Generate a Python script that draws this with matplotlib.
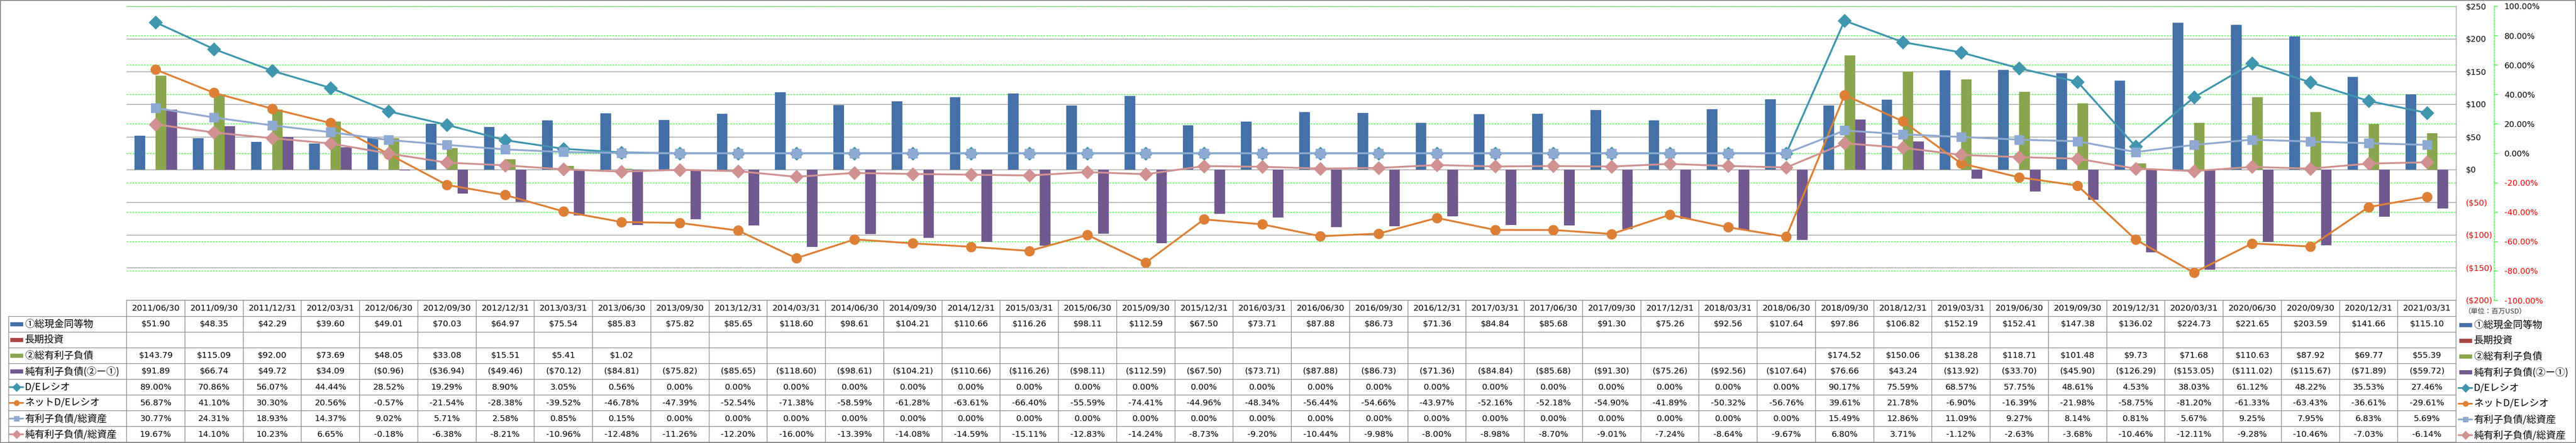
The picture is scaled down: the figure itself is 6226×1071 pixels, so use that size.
import numpy as np
import matplotlib
matplotlib.use("Agg")
import matplotlib.pyplot as plt
from matplotlib.patches import Rectangle
from matplotlib.lines import Line2D

# ---- data (百万USD / %) ----
dates = ["2011/06/30", "2011/09/30", "2011/12/31", "2012/03/31", "2012/06/30", "2012/09/30",
         "2012/12/31", "2013/03/31", "2013/06/30", "2013/09/30", "2013/12/31", "2014/03/31",
         "2014/06/30", "2014/09/30", "2014/12/31", "2015/03/31", "2015/06/30", "2015/09/30",
         "2015/12/31", "2016/03/31", "2016/06/30", "2016/09/30", "2016/12/31", "2017/03/31",
         "2017/06/30", "2017/09/30", "2017/12/31", "2018/03/31", "2018/06/30", "2018/09/30",
         "2018/12/31", "2019/03/31", "2019/06/30", "2019/09/30", "2019/12/31", "2020/03/31",
         "2020/06/30", "2020/09/30", "2020/12/31", "2021/03/31"]

cash = [51.90, 48.35, 42.29, 39.60, 49.01, 70.03, 64.97, 75.54, 85.83, 75.82,
        85.65, 118.60, 98.61, 104.21, 110.66, 116.26, 98.11, 112.59, 67.50, 73.71,
        87.88, 86.73, 71.36, 84.84, 85.68, 91.30, 75.26, 92.56, 107.64, 97.86,
        106.82, 152.19, 152.41, 147.38, 136.02, 224.73, 221.65, 203.59, 141.66, 115.10]

long_inv = [None] * 40

debt = [143.79, 115.09, 92.00, 73.69, 48.05, 33.08, 15.51, 5.41, 1.02, None,
        None, None, None, None, None, None, None, None, None, None,
        None, None, None, None, None, None, None, None, None, 174.52,
        150.06, 138.28, 118.71, 101.48, 9.73, 71.68, 110.63, 87.92, 69.77, 55.39]

net_debt = [91.89, 66.74, 49.72, 34.09, -0.96, -36.94, -49.46, -70.12, -84.81, -75.82,
            -85.65, -118.60, -98.61, -104.21, -110.66, -116.26, -98.11, -112.59, -67.50, -73.71,
            -87.88, -86.73, -71.36, -84.84, -85.68, -91.30, -75.26, -92.56, -107.64, 76.66,
            43.24, -13.92, -33.70, -45.90, -126.29, -153.05, -111.02, -115.67, -71.89, -59.72]

de_ratio = [89.00, 70.86, 56.07, 44.44, 28.52, 19.29, 8.90, 3.05, 0.56, 0.00,
            0.00, 0.00, 0.00, 0.00, 0.00, 0.00, 0.00, 0.00, 0.00, 0.00,
            0.00, 0.00, 0.00, 0.00, 0.00, 0.00, 0.00, 0.00, 0.00, 90.17,
            75.59, 68.57, 57.75, 48.61, 4.53, 38.03, 61.12, 48.22, 35.53, 27.46]

net_de_ratio = [56.87, 41.10, 30.30, 20.56, -0.57, -21.54, -28.38, -39.52, -46.78, -47.39,
                -52.54, -71.38, -58.59, -61.28, -63.61, -66.40, -55.59, -74.41, -44.96, -48.34,
                -56.44, -54.66, -43.97, -52.16, -52.18, -54.90, -41.89, -50.32, -56.76, 39.61,
                21.78, -6.90, -16.39, -21.98, -58.75, -81.20, -61.33, -63.43, -36.61, -29.61]

debt_assets = [30.77, 24.31, 18.93, 14.37, 9.02, 5.71, 2.58, 0.85, 0.15, 0.00,
               0.00, 0.00, 0.00, 0.00, 0.00, 0.00, 0.00, 0.00, 0.00, 0.00,
               0.00, 0.00, 0.00, 0.00, 0.00, 0.00, 0.00, 0.00, 0.00, 15.49,
               12.86, 11.09, 9.27, 8.14, 0.81, 5.67, 9.25, 7.95, 6.83, 5.69]

net_debt_assets = [19.67, 14.10, 10.23, 6.65, -0.18, -6.38, -8.21, -10.96, -12.48, -11.26,
                   -12.20, -16.00, -13.39, -14.08, -14.59, -15.11, -12.83, -14.24, -8.73, -9.20,
                   -10.44, -9.98, -8.00, -8.98, -8.70, -9.01, -7.24, -8.64, -9.67, 6.80,
                   3.71, -1.12, -2.63, -3.68, -10.46, -12.11, -9.28, -10.46, -7.03, -6.14]

bar_names = ["①総現金同等物", "長期投資", "②総有利子負債", "純有利子負債(②ー①)"]
line_names = ["D/Eレシオ", "ネットD/Eレシオ", "有利子負債/総資産", "純有利子負債/総資産"]
unit_label = "（単位：百万USD）"

# ---- styles ----
bar_colors = ["#4472A8", "#AA4643", "#89A54E", "#71588F"]
line_colors = ["#3F96AE", "#DD8036", "#8EA9D2", "#D09190"]
line_markers = ["D", "o", "s", "D"]
line_ms = [16, 17, 16, 16]
CJK = ["Noto Sans CJK JP", "DejaVu Sans"]
GRAY = "#868686"
LIME = "#00FF00"

W, H = 6226, 1071
fig = plt.figure(figsize=(W / 100, H / 100), dpi=100)
fig.patch.set_facecolor("white")

pl, pr, pt, pb = 306, 5936, 15, 726
ax = fig.add_axes([pl / W, 1 - pb / H, (pr - pl) / W, (pb - pt) / H])
ax2 = ax.twinx()

n = len(dates)
x = np.arange(n)
ax.set_xlim(-0.5, n - 0.5)
ax.set_ylim(-200, 250)
ax2.set_ylim(-1, 1)


def arr(vals):
    return np.array([np.nan if v is None else v for v in vals], dtype=float)


# gridlines
dollar_ticks = list(range(-200, 251, 50))
pct_ticks = [t / 100 for t in range(-100, 101, 20)]
for t in dollar_ticks:
    ax.axhline(t, color=GRAY, lw=1.0, zorder=1)
for t in pct_ticks:
    ax.plot([0, 1], [t, t], transform=ax2.get_yaxis_transform(), color=LIME,
            lw=1.0, ls=(0, (3, 2)), zorder=1)

# bars
w = 1 / 5.5
bar_data = [cash, long_inv, debt, net_debt]
for i, vals in enumerate(bar_data):
    ax.bar(x + (i - 1.5) * w, arr(vals), width=w, color=bar_colors[i], zorder=3)

# lines
line_data = [de_ratio, net_de_ratio, debt_assets, net_debt_assets]
for i, vals in enumerate(line_data):
    ax2.plot(x, arr(vals) / 100, color=line_colors[i], lw=3.2, marker=line_markers[i],
             ms=line_ms[i], mfc=line_colors[i], mec=line_colors[i], zorder=4)

# axes
ax.set_xticks([])
ax2.set_xticks([])
for s in ["top", "left", "bottom"]:
    ax.spines[s].set_visible(False)
    ax2.spines[s].set_visible(False)
ax.spines["right"].set_color(GRAY)
ax.spines["right"].set_linewidth(1.0)

ax.yaxis.tick_right()
ax.set_yticks(dollar_ticks)
ax.set_yticklabels([f"${t}" if t >= 0 else f"(${-t})" for t in dollar_ticks])
ax.tick_params(axis="y", length=0, pad=17, labelsize=14)
for lab, t in zip(ax.get_yticklabels(), dollar_ticks):
    lab.set_color("red" if t < 0 else "black")

ax2.spines["right"].set_position(("outward", 66))
ax2.spines["right"].set_color(LIME)
ax2.spines["right"].set_linestyle((0, (3, 2)))
ax2.spines["right"].set_linewidth(1.0)
ax2.set_yticks(pct_ticks)
ax2.set_yticklabels([f"{t * 100:.2f}%" for t in pct_ticks])
ax2.tick_params(axis="y", direction="out", length=6.5, width=1.0, color=LIME,
                pad=11.5, labelsize=14)
for lab, t in zip(ax2.get_yticklabels(), pct_ticks):
    lab.set_color("red" if t < 0 else "black")

# ---- data table ----
tab = fig.add_axes([0, 0, 1, 1])
tab.set_xlim(0, W)
tab.set_ylim(H, 0)
tab.axis("off")

rows_y = [726, 765, 803, 841, 879, 917, 955, 993, 1031, 1069]
col_w = (pr - pl) / n
TL = "#8C8C8C"

tab.plot([pl, pr], [rows_y[0], rows_y[0]], color=TL, lw=1.2)
for yy in rows_y[1:]:
    tab.plot([21, pr], [yy, yy], color=TL, lw=1.2)
tab.plot([21, 21], [rows_y[1], rows_y[-1]], color=TL, lw=1.2)
for k in range(n + 1):
    xx = pl + k * col_w
    tab.plot([xx, xx], [rows_y[0], rows_y[-1]], color=TL, lw=1.2)


def money(v):
    if v is None:
        return ""
    return f"${v:,.2f}" if v >= 0 else f"(${-v:,.2f})"


def pct(v):
    return "" if v is None else f"{v:.2f}%"


table_rows = [[money(v) for v in s] for s in bar_data] + \
             [[pct(v) for v in s] for s in line_data]

hy = (rows_y[0] + rows_y[1]) / 2
for k, d in enumerate(dates):
    cx = pl + (k + 0.5) * col_w
    tab.text(cx, hy, d, ha="center", va="center", fontsize=14.4, color="black")
    for r, row in enumerate(table_rows):
        cy = (rows_y[r + 1] + rows_y[r + 2]) / 2
        tab.text(cx, cy, row[k], ha="center", va="center", fontsize=14.4, color="black")


def key(x0, cy, r):
    if r < 4:
        tab.add_patch(Rectangle((x0 + 2, cy - 4.7), 31, 9.5, color=bar_colors[r], lw=0))
    else:
        i = r - 4
        tab.add_line(Line2D([x0, x0 + 33], [cy, cy], color=line_colors[i], lw=3.0,
                            solid_capstyle="round"))
        tab.add_line(Line2D([x0 + 16.5], [cy], marker=line_markers[i], ms=9 if i % 3 else 10,
                            color=line_colors[i], mec=line_colors[i]))


labels = bar_names + line_names
for r, name in enumerate(labels):
    cy = (rows_y[r + 1] + rows_y[r + 2]) / 2
    key(23, cy, r)
    tab.text(60, cy, name, ha="left", va="center", fontsize=17, family=CJK)
    key(5942, cy + 2, r)
    tab.text(5979, cy + 2, name, ha="left", va="center", fontsize=17, family=CJK)

tab.text(5955, 753, unit_label, ha="left", va="center", fontsize=12, family=CJK,
         color="#333333")

# chart border
tab.add_patch(Rectangle((1, 1), W - 2, H - 2, fill=False, ec=GRAY, lw=1.5))

fig.savefig("out.png", dpi=100, facecolor="white")
